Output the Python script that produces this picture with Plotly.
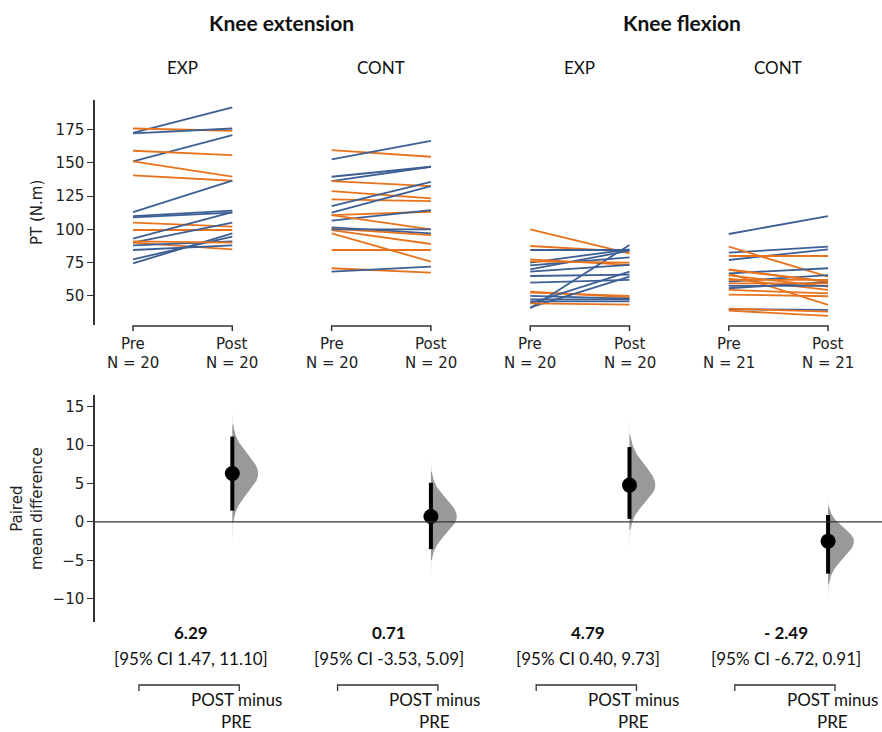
import numpy as np
import plotly.graph_objects as go

# ---------------- data ----------------
groups = ["EXP", "CONT", "EXP", "CONT"]
panels = ["Knee extension", "Knee flexion"]
n_labels = ["N = 20", "N = 20", "N = 20", "N = 21"]

pre_g1 = [172.5, 175.7, 172, 151, 159, 151, 140.5, 113, 110, 109, 105, 99.5, 93, 90, 90, 88, 84.5, 77.5, 74.5, 91]
post_g1 = [191.5, 174, 175.7, 170.7, 155.7, 139.5, 136.5, 136.5, 114, 112.5, 102, 99.5, 113, 105, 85, 91, 88, 94.5, 97, 90]
col_g1 = ["b", "o", "b", "b", "o", "o", "o", "b", "b", "b", "o", "o", "b", "b", "o", "b", "b", "b", "b", "o"]

pre_g2 = [159.5, 152.5, 139.5, 136.2, 136.2, 128.7, 122.5, 117.5, 112.5, 110.7, 106.5, 110.7, 101.5, 100.5, 99.5, 97, 84.5, 70.8, 68.3, 100]
post_g2 = [154.5, 166.5, 147, 147, 132.5, 123.2, 121.2, 135.7, 132.5, 113.2, 114.5, 100, 97, 95.7, 89, 75.8, 84.5, 67.5, 72, 100]
col_g2 = ["o", "b", "b", "b", "o", "o", "o", "b", "b", "o", "b", "o", "b", "o", "o", "o", "o", "o", "b", "b"]

pre_g3 = [100, 87.5, 84.5, 75, 77.5, 70, 68.3, 65, 60, 53.3, 52.5, 44.5, 41.5, 40.7, 47.5, 44.5, 46, 73, 76, 50]
post_g3 = [82, 83.3, 84.5, 85, 73.3, 84, 73.3, 66, 62, 49, 50, 68.3, 64.5, 88.3, 47.5, 43.5, 46, 79, 75, 48]
col_g3 = ["o", "o", "b", "b", "o", "b", "b", "b", "b", "o", "o", "b", "b", "b", "b", "o", "b", "b", "o", "b"]

pre_g4 = [96.5, 82.5, 77, 80, 87, 67, 67, 60.8, 70, 65.5, 63, 57.5, 55.8, 54.5, 51, 59.5, 40, 39, 40.5, 69.5, 62]
post_g4 = [110, 87, 85, 80, 64.5, 43.3, 70.8, 65.7, 60.5, 57, 54.5, 57.5, 60.5, 52, 49.8, 59.5, 39.5, 35, 38.3, 61, 62]
col_g4 = ["b", "b", "b", "o", "o", "o", "b", "b", "o", "o", "o", "b", "b", "o", "o", "o", "b", "o", "o", "o", "o"]

mean_diff = [6.29, 0.71, 4.79, -2.49]
ci_low = [1.47, -3.53, 0.40, -6.72]
ci_high = [11.10, 5.09, 9.73, 0.91]
diff_labels = ["6.29", "0.71", "4.79", "- 2.49"]
ci_labels = ["[95% CI 1.47, 11.10]", "[95% CI -3.53, 5.09]", "[95% CI 0.40, 9.73]", "[95% CI -6.72, 0.91]"]

top_ticks = [50, 75, 100, 125, 150, 175]
bot_ticks = [-10, -5, 0, 5, 10, 15]
bot_ticktext = ["\u221210", "\u22125", "0", "5", "10", "15"]

pres = [pre_g1, pre_g2, pre_g3, pre_g4]
posts = [post_g1, post_g2, post_g3, post_g4]
cols = [col_g1, col_g2, col_g3, col_g4]

# ---------------- style ----------------
W, H = 882, 732
BLUE = "#3d5f94"
ORANGE = "#e8731c"
AX = "#333333"
MPL = "DejaVu Sans"
TXT = "Lato, Open Sans, sans-serif"


def py(p):  # page pixel y -> paper
    return 1 - p / H


fig = go.Figure()

# top panel paired lines
for g in range(4):
    for a, b, c in zip(pres[g], posts[g], cols[g]):
        fig.add_trace(go.Scatter(
            x=[2 * g, 2 * g + 1], y=[a, b], mode="lines",
            line=dict(color=BLUE if c == "b" else ORANGE, width=1.8),
            xaxis="x", yaxis="y", showlegend=False, hoverinfo="skip"))


def half_violin(g, k, color):
    m, lo, hi = mean_diff[g], ci_low[g], ci_high[g]
    s_lo = (m - lo) / 1.96
    s_hi = (hi - m) / 1.96
    yy = np.concatenate([np.linspace(m - k * s_lo, m, 80), np.linspace(m, m + k * s_hi, 80)[1:]])
    sd = np.where(yy < m, s_lo, s_hi)
    dens = np.exp(-0.5 * ((yy - m) / sd) ** 2)
    xc = 2 * g + 1
    xs = xc + 0.26 * dens
    fig.add_trace(go.Scatter(
        x=np.concatenate([xs, [xc, xc]]), y=np.concatenate([yy, [yy[-1], yy[0]]]),
        mode="lines", fill="toself", fillcolor=color, line=dict(width=0),
        xaxis="x2", yaxis="y2", showlegend=False, hoverinfo="skip"))


# bottom panel: half violins + CI + mean
for g in range(4):
    m, lo, hi = mean_diff[g], ci_low[g], ci_high[g]
    xc = 2 * g + 1
    half_violin(g, 3.7, "#e2e2e2")
    half_violin(g, 2.6, "#999999")
    fig.add_trace(go.Scatter(
        x=[xc, xc], y=[lo, hi], mode="lines", line=dict(color="black", width=4),
        xaxis="x2", yaxis="y2", showlegend=False, hoverinfo="skip"))
    fig.add_trace(go.Scatter(
        x=[xc], y=[m], mode="markers", marker=dict(color="black", size=15),
        xaxis="x2", yaxis="y2", showlegend=False, hoverinfo="skip"))

shapes = []
annotations = []

# zero line
shapes.append(dict(type="line", xref="paper", yref="y2", x0=0, x1=1, y0=0, y1=0,
                   line=dict(color=AX, width=1.3)))

for g in range(4):
    x0, x1 = 2 * g, 2 * g + 1
    shapes.append(dict(type="path", xref="x", yref="paper",
                       path=f"M {x0},{py(331)} L {x0},{py(326)} L {x1},{py(326)} L {x1},{py(331)}",
                       line=dict(color=AX, width=1.5)))
    for xx, lab in ((x0, "Pre"), (x1, "Post")):
        annotations.append(dict(x=xx, y=py(344), xref="x", yref="paper", text=lab, showarrow=False,
                                font=dict(family=MPL, size=15, color="#222"), xanchor="center", yanchor="middle"))
        annotations.append(dict(x=xx, y=py(363), xref="x", yref="paper", text=n_labels[g], showarrow=False,
                                font=dict(family=MPL, size=15, color="#222"), xanchor="center", yanchor="middle"))
    annotations.append(dict(x=2 * g + 0.5, y=py(67), xref="x", yref="paper", text=groups[g], showarrow=False,
                            font=dict(family=TXT, size=17, color="#111"), xanchor="center", yanchor="middle"))
    annotations.append(dict(x=2 * g + 0.58, y=py(632), xref="x", yref="paper", text=f"<b>{diff_labels[g]}</b>",
                            showarrow=False, font=dict(family=TXT, size=17, color="#111"),
                            xanchor="center", yanchor="middle"))
    annotations.append(dict(x=2 * g + 0.58, y=py(658), xref="x", yref="paper", text=ci_labels[g],
                            showarrow=False, font=dict(family=TXT, size=17, color="#111"),
                            xanchor="center", yanchor="middle"))
    b0, b1 = 2 * g + 0.06, 2 * g + 1.07
    shapes.append(dict(type="path", xref="x", yref="paper",
                       path=f"M {b0},{py(691)} L {b0},{py(685)} L {b1},{py(685)} L {b1},{py(691)}",
                       line=dict(color=AX, width=1.3)))
    annotations.append(dict(x=2 * g + 1.04, y=py(699), xref="x", yref="paper", text="POST minus",
                            showarrow=False, font=dict(family=TXT, size=17, color="#111"),
                            xanchor="center", yanchor="middle"))
    annotations.append(dict(x=2 * g + 1.04, y=py(721), xref="x", yref="paper", text="PRE",
                            showarrow=False, font=dict(family=TXT, size=17, color="#111"),
                            xanchor="center", yanchor="middle"))

for i, t in enumerate(panels):
    annotations.append(dict(x=[1.5, 5.53][i], y=py(23), xref="x", yref="paper", text=f"<b>{t}</b>",
                            showarrow=False, font=dict(family=TXT, size=21, color="#111"),
                            xanchor="center", yanchor="middle"))

# y titles
L = 95
PW = W - L
annotations.append(dict(x=(37 - L) / PW, y=py(213), xref="paper", yref="paper", text="PT (N.m)",
                        textangle=-90, showarrow=False, font=dict(family=MPL, size=15, color="#222"),
                        xanchor="center", yanchor="middle"))
annotations.append(dict(x=(27 - L) / PW, y=py(509), xref="paper", yref="paper",
                        text="Paired<br>mean difference", textangle=-90, showarrow=False,
                        font=dict(family=MPL, size=15, color="#222"), xanchor="center", yanchor="middle"))

xr = [-0.383, 7.543]
fig.update_layout(
    width=W, height=H, margin=dict(l=L, r=0, t=0, b=0),
    paper_bgcolor="white", plot_bgcolor="white", showlegend=False,
    shapes=shapes, annotations=annotations,
    xaxis=dict(domain=[0, 1], range=xr, visible=False, anchor="y"),
    xaxis2=dict(domain=[0, 1], range=xr, visible=False, anchor="y2"),
    yaxis=dict(domain=[py(325), py(100)], range=[28.2, 197.1], tickvals=top_ticks,
               showline=True, linecolor=AX, linewidth=1.5, ticks="outside", ticklen=6, tickwidth=1.3,
               tickcolor=AX, showgrid=False, zeroline=False, automargin=False,
               tickfont=dict(family=MPL, size=15, color="#222")),
    yaxis2=dict(domain=[py(622), py(395)], range=[-13, 16.5], tickvals=bot_ticks, ticktext=bot_ticktext,
                showline=True, linecolor=AX, linewidth=1.5, ticks="outside", ticklen=6, tickwidth=1.3,
                tickcolor=AX, showgrid=False, zeroline=False, automargin=False,
                tickfont=dict(family=MPL, size=15, color="#222")),
)

fig.write_html("out.html", config={"displayModeBar": False},
               post_script="document.body.style.margin='0';document.body.style.overflow='hidden';")
